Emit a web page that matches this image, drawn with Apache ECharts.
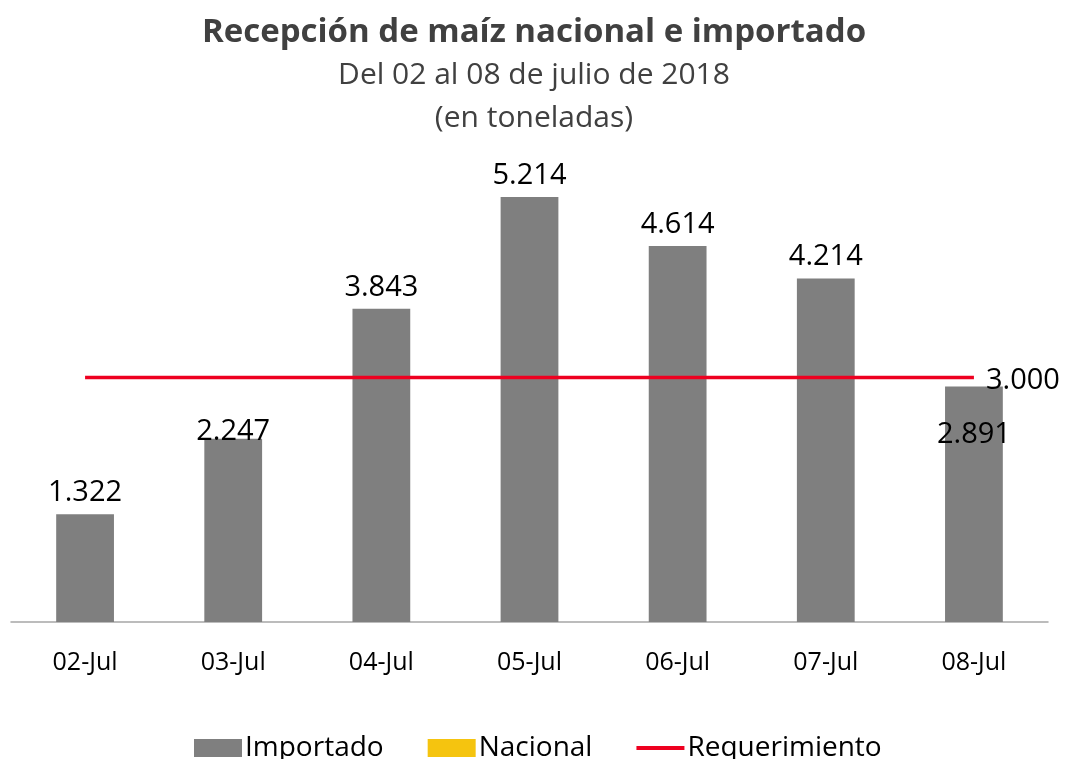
<!DOCTYPE html>
<html>
<head>
<meta charset="utf-8">
<script src="https://cdn.jsdelivr.net/npm/echarts@6/dist/echarts.min.js"></script>
<style>
  html, body { margin: 0; padding: 0; background: #fff; }
  #chart { width: 1068px; height: 759px; }
</style>
</head>
<body>
<div id="chart"></div>
<script>
const days = ["02-Jul", "03-Jul", "04-Jul", "05-Jul", "06-Jul", "07-Jul", "08-Jul"];
const importado = [1322, 2247, 3843, 5214, 4614, 4214, 2891];
const nacional = [0, 0, 0, 0, 0, 0, 0];
const requerimiento = [3000, 3000, 3000, 3000, 3000, 3000, 3000];

const FONT = "Open Sans";
const fmt = (v) => (v / 1000).toFixed(3);

const chart = echarts.init(document.getElementById("chart"));

// etiquetas de barras: 03-Jul casi sobre la barra, 08-Jul dentro de la barra
const importadoData = importado.map((v, i) => {
  if (i === 1) return { value: v, label: { offset: [0, 14] } };
  if (i === 6) return { value: v, label: { position: "insideTop", distance: 34 } };
  return v;
});

const option = {
  animation: false,
  textStyle: { fontFamily: FONT },
  title: [
    {
      text: "Recepción de maíz nacional e importado",
      left: "center",
      top: 11,
      textStyle: { fontFamily: FONT, fontSize: 33, fontWeight: "bold", color: "#404040" },
    },
    {
      text: "Del 02 al 08 de julio de 2018",
      left: "center",
      top: 55,
      textStyle: { fontFamily: FONT, fontSize: 30, fontWeight: "normal", color: "#404040" },
    },
    {
      text: "(en toneladas)",
      left: "center",
      top: 98,
      textStyle: { fontFamily: FONT, fontSize: 30, fontWeight: "normal", color: "#404040" },
    },
  ],
  legend: {
    bottom: -8,
    left: 189,
    itemGap: 44,
    itemWidth: 48,
    itemHeight: 18,
    textStyle: { fontFamily: FONT, fontSize: 28, color: "#000", padding: [0, 0, 0, -2] },
    data: [
      { name: "Importado", icon: "rect" },
      { name: "Nacional", icon: "rect" },
      { name: "Requerimiento", icon: "path://M0,0h48v4h-48z" },
    ],
  },
  grid: { left: 11, right: 20, top: 133, bottom: 137 },
  xAxis: {
    type: "category",
    data: days,
    axisLine: { lineStyle: { color: "#a6a6a6", width: 1.5 } },
    axisTick: { show: false },
    axisLabel: { fontFamily: FONT, fontSize: 25, color: "#000", margin: 28 },
  },
  yAxis: {
    type: "value",
    min: 0,
    max: 6000,
    show: false,
    splitLine: { show: false },
  },
  series: [
    {
      name: "Importado",
      type: "bar",
      stack: "total",
      barWidth: "39%",
      data: importadoData,
      itemStyle: { color: "#7f7f7f" },
      label: {
        show: true,
        position: "top",
        distance: 7,
        formatter: (p) => fmt(p.value),
        fontFamily: FONT,
        fontSize: 29,
        color: "#000",
      },
    },
    {
      name: "Nacional",
      type: "bar",
      stack: "total",
      data: nacional,
      itemStyle: { color: "#f5c40f" },
    },
    {
      name: "Requerimiento",
      type: "line",
      data: requerimiento,
      symbol: "none",
      lineStyle: { color: "#ee0020", width: 3.5 },
      itemStyle: { color: "#ee0020" },
      endLabel: {
        show: true,
        distance: 12,
        offset: [0, 3],
        formatter: (p) => fmt(p.value),
        fontFamily: FONT,
        fontSize: 29,
        color: "#000",
      },
    },
  ],
};

chart.setOption(option);
</script>
</body>
</html>
